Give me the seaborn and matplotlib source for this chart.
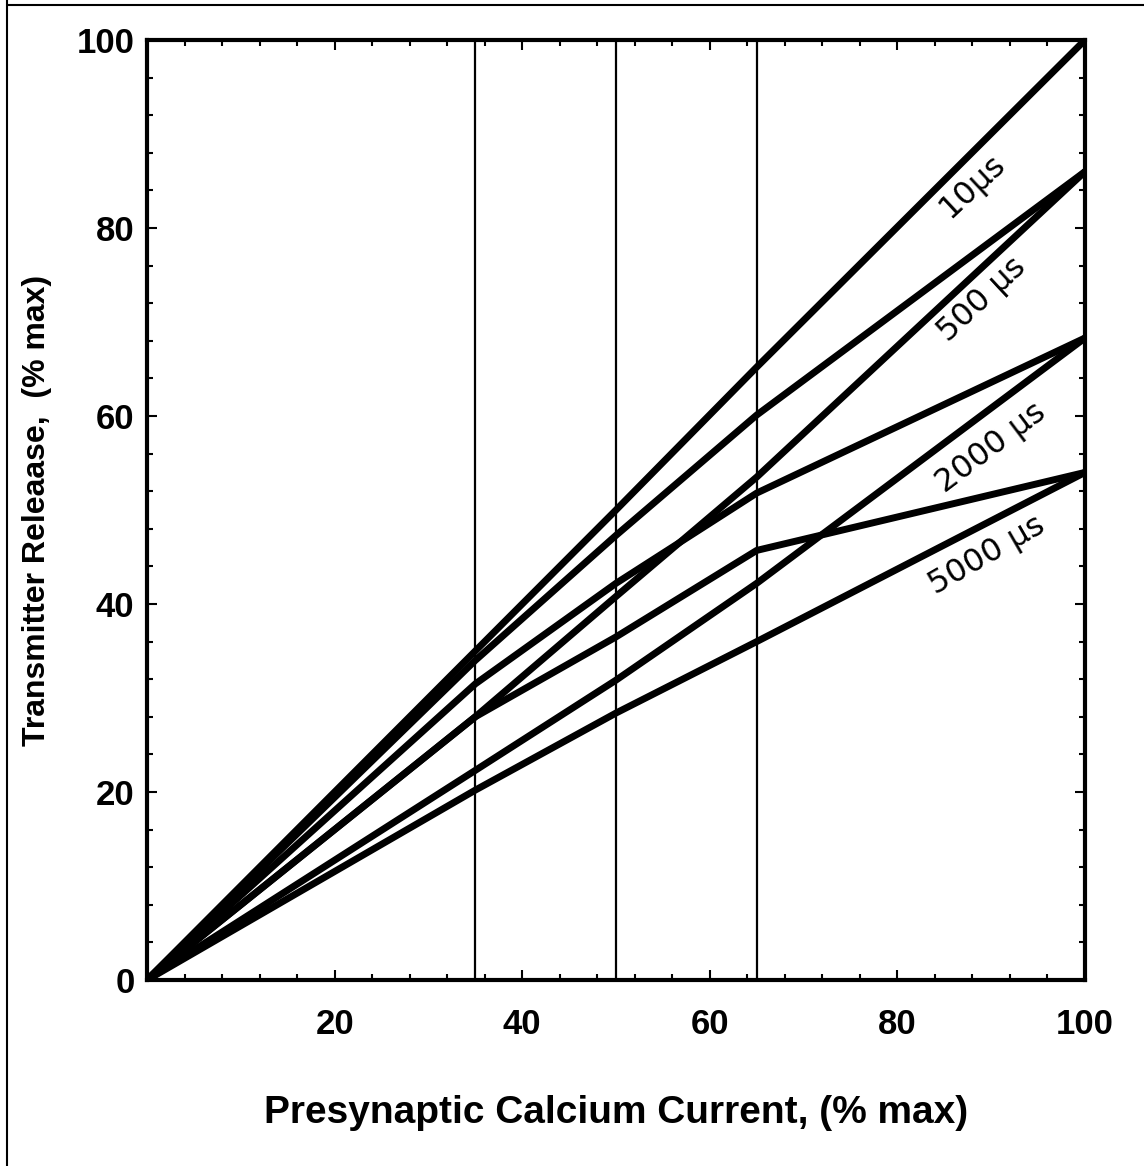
import matplotlib
matplotlib.use("Agg")
import matplotlib.pyplot as plt
from matplotlib.lines import Line2D
from matplotlib.ticker import MultipleLocator
import seaborn as sns
import pandas as pd

# ---- data ----
calcium = [0, 35, 50, 65, 100]
rel_10us = [0, 35.0, 50.0, 65.2, 100.0]
rel_500us_a = [0, 34.0, 47.3, 60.1, 86.0]
rel_500us_b = [0, 28.0, 40.8, 53.5, 86.0]
rel_2000us_a = [0, 31.5, 42.2, 51.8, 68.3]
rel_2000us_b = [0, 22.3, 31.9, 42.2, 68.3]
rel_5000us_a = [0, 28.0, 36.5, 45.7, 54.0]
rel_5000us_b = [0, 20.2, 28.4, 36.0, 54.0]
marker_x = [35, 50, 65]
x_ticks = [20, 40, 60, 80, 100]
y_ticks = [0, 20, 40, 60, 80, 100]
curve_labels = ["10\u00b5s", "500 \u00b5s", "2000 \u00b5s", "5000 \u00b5s"]

series = {
    "10a": rel_10us, "500a": rel_500us_a, "500b": rel_500us_b,
    "2000a": rel_2000us_a, "2000b": rel_2000us_b,
    "5000a": rel_5000us_a, "5000b": rel_5000us_b,
}
df = pd.DataFrame([
    {"x": cx, "y": yy, "curve": name}
    for name, vals in series.items() for cx, yy in zip(calcium, vals)
])

sns.set_style("ticks")
plt.rcParams["font.family"] = ["Liberation Sans", "DejaVu Sans"]
plt.rcParams["font.weight"] = "bold"
for k in ["text.color", "axes.labelcolor", "xtick.color", "ytick.color", "axes.edgecolor"]:
    plt.rcParams[k] = "black"

fig = plt.figure(figsize=(11.44, 11.66), dpi=100)
ax = fig.add_axes([147 / 1144, 1 - 980 / 1166, (1085 - 147) / 1144, (980 - 40) / 1166])

for xv in marker_x:
    ax.axvline(xv, color="black", lw=1.6, zorder=1)

sns.lineplot(data=df, x="x", y="y", units="curve", estimator=None, sort=False,
             color="black", lw=5.0, ax=ax, legend=False, zorder=3,
             solid_capstyle="round", solid_joinstyle="round")

ax.set_xlim(0, 100)
ax.set_ylim(0, 100)
ax.set_xticks(x_ticks)
ax.set_yticks(y_ticks)
ax.xaxis.set_minor_locator(MultipleLocator(4))
ax.yaxis.set_minor_locator(MultipleLocator(4))
ax.tick_params(which="both", direction="in", top=True, right=True, width=1.5, color="black")
ax.tick_params(which="major", length=7)
ax.tick_params(which="minor", length=4)
ax.tick_params(axis="x", which="major", labelsize=25, pad=20, labelcolor="black")
ax.tick_params(axis="y", which="major", labelsize=25, pad=9, labelcolor="black")
for lab in ax.get_xticklabels() + ax.get_yticklabels():
    lab.set_fontweight("bold")
for sp in ax.spines.values():
    sp.set_linewidth(3)
    sp.set_color("black")

ax.set_xlabel("Presynaptic Calcium Current, (% max)", fontsize=28, fontweight="bold", color="black")
ax.set_ylabel("Transmitter Releaase,  (% max)", fontsize=23, fontweight="bold", color="black")
ax.xaxis.set_label_coords(0.5, -0.122)
ax.yaxis.set_label_coords(-0.101, 0.5)

hand = dict(family=["DejaVu Sans"], fontsize=23, color="black", ha="center", va="center",
            fontweight="normal")
ax.text(88.0, 84.5, curve_labels[0], rotation=43, **hand)
ax.text(89.0, 72.4, curve_labels[1], rotation=43, **hand)
ax.text(90.0, 56.6, curve_labels[2], rotation=37, **hand)
ax.text(89.6, 45.2, curve_labels[3], rotation=30, **hand)

# page frame around the figure
for (x0, y0, x1, y1) in [(7, 0, 7, 1166), (7, 5, 1144, 5)]:
    fig.add_artist(Line2D([x0 / 1144, x1 / 1144], [1 - y0 / 1166, 1 - y1 / 1166],
                          color="black", lw=1.5, transform=fig.transFigure))

fig.savefig("out.png", dpi=100, facecolor="white")
